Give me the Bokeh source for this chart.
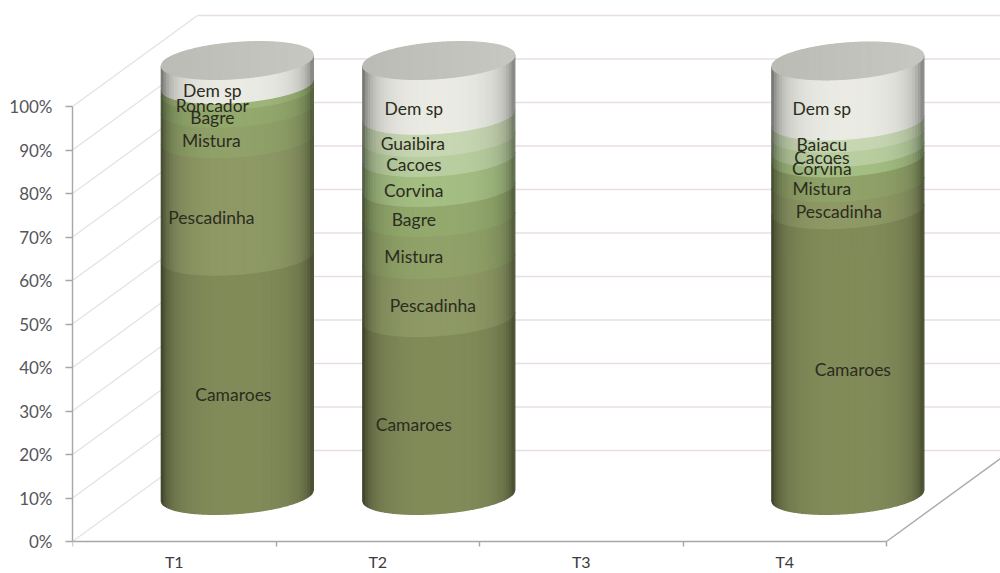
from bokeh.core.properties import value
from bokeh.embed import file_html
from bokeh.models import ColumnDataSource, FixedTicker, LinearAxis, PrintfTickFormatter, Range1d
from bokeh.plotting import figure
from bokeh.resources import INLINE
import numpy as np

# Stacked shares per sampling period, bottom to top (T3 has no catch)
categories = ["T1", "T2", "T3", "T4"]
t1_species = ["Camaroes", "Pescadinha", "Mistura", "Bagre", "Roncador", "Dem sp"]
t1_values = [55.0, 27.0, 7.0, 4.0, 1.5, 5.5]
t2_species = ["Camaroes", "Pescadinha", "Mistura", "Bagre", "Corvina", "Cacoes", "Guaibira", "Dem sp"]
t2_values = [40.9, 13.3, 9.7, 6.9, 6.9, 4.6, 5.1, 12.6]
t4_species = ["Camaroes", "Pescadinha", "Mistura", "Corvina", "Cacoes", "Baiacu", "Dem sp"]
t4_values = [65.7, 6.2, 5.7, 2.3, 3.4, 2.8, 13.8]
y_ticks = [0, 10, 20, 30, 40, 50, 60, 70, 80, 90, 100]

# Label nudges in screen pixels (right, down), in stacking order
t1_nudge = [(-4, 1), (-26, 2), (-26, -1), (-25, 0), (-25, 0), (-25, 0)]
t2_nudge = [(-25, 0), (-6, -1), (-25, 0), (-25, -1), (-25, 0), (-25, -1), (-26, -1), (-25, 3)]
t4_nudge = [(5, -1), (-9, -3), (-26, 0), (-26, -2), (-26, -1), (-26, -1), (-26, 0)]

species_colors = {
    "Camaroes": "#7d8656",
    "Pescadinha": "#899462",
    "Mistura": "#8b9c65",
    "Bagre": "#8ea369",
    "Roncador": "#99af75",
    "Corvina": "#9eb77e",
    "Cacoes": "#b2c79a",
    "Guaibira": "#c0cfac",
    "Baiacu": "#c0cfac",
    "Dem sp": "#e2e2dc",
}

FONT = "Lato"
PX_X = 203.5       # pixels per category
PX_Y = 4.35        # pixels per percentage point
DEPTH_X = 125 / PX_X
DEPTH_Y = 91 / PX_Y
BASE = 46 / PX_Y   # axis height of the centre of each cylinder's base
A = 76 / PX_X      # half width
B = 18 / PX_Y      # half height of the elliptical section
TILT = 5.5 / PX_Y  # rise of the section from centre to right edge
STRIPS = 56

p = figure(
    width=1000, height=573, output_backend="svg", toolbar_location=None,
    x_range=Range1d(0, 928 / PX_X), y_range=Range1d(-32 / PX_Y, 541 / PX_Y),
    min_border_left=72, min_border_right=0, min_border_top=0, min_border_bottom=0,
    x_axis_type=None, y_axis_type=None,
)
p.outline_line_color = None
p.xgrid.visible = False
p.ygrid.visible = False
p.background_fill_color = "#ffffff"
p.border_fill_color = "#ffffff"

# Chart walls: side-wall diagonals and back-wall rules
ticks = np.array(y_ticks, dtype=float)
p.segment(0, ticks, DEPTH_X, ticks + DEPTH_Y, line_color="#e6dfe4", line_width=1.2)
p.segment(DEPTH_X, ticks + DEPTH_Y, 928 / PX_X, ticks + DEPTH_Y, line_color="#e8dee4", line_width=1.3)
p.line([4, 928 / PX_X], [0, 83 / PX_Y], line_color="#aaa8ac", line_width=1.4)


def shade(hex_color, u):
    """Cylinder shading: darker toward both edges, a little more on the left."""
    rgb = np.array([int(hex_color[i:i + 2], 16) for i in (1, 3, 5)], dtype=float)
    side = 1.12 if u < 0 else 0.95
    light = 1.04 - side * (0.22 * abs(u) ** 3 + 0.30 * abs(u) ** 12)
    out = np.clip(rgb * light, 0, 255).astype(int)
    return "#%02x%02x%02x" % tuple(out)


def section(u, side=-1.0):
    return TILT * u + side * B * np.sqrt(np.clip(1 - u * u, 0, 1))


def draw_cylinder(center, species, values, nudges):
    edges = np.linspace(-1, 1, STRIPS + 1)
    xs, ys, colors = [], [], []
    tops = np.concatenate([[0.0], np.cumsum(values)])
    for name, low, high in zip(species, tops[:-1], tops[1:]):
        for e0, e1 in zip(edges[:-1], edges[1:]):
            uu = np.linspace(e0, e1, 4)
            bottom = BASE + low + section(uu)
            top = BASE + high + section(uu)
            xs.append(list(center + A * uu) + list(center + A * uu[::-1]))
            ys.append(list(bottom) + list(top[::-1]))
            colors.append(shade(species_colors[name], 0.5 * (e0 + e1)))
    # Cut end of the cylinder
    for e0, e1 in zip(edges[:-1], edges[1:]):
        uu = np.linspace(e0, e1, 4)
        level = BASE + tops[-1]
        xs.append(list(center + A * uu) + list(center + A * uu[::-1]))
        ys.append(list(level + section(uu)) + list(level + section(uu[::-1], 1.0)))
        mid = 0.5 * (e0 + e1)
        grey = int(194 + 6 * mid)
        colors.append("#%02x%02x%02x" % (grey, grey, grey - 6))
    p.patches(xs, ys, fill_color=colors, line_color=colors, line_width=1.3)

    mids = BASE + 0.5 * (tops[:-1] + tops[1:]) - B
    labels = ColumnDataSource(dict(
        x=[center] * len(species), y=mids, text=species,
        dx=[n[0] for n in nudges], dy=[n[1] for n in nudges],
    ))
    p.text("x", "y", text="text", x_offset="dx", y_offset="dy", source=labels,
           text_font=value(FONT), text_font_size="17.5px", text_color="#2b2c20",
           text_align="center", text_baseline="middle")


draw_cylinder(0.81, t1_species, t1_values, t1_nudge)
draw_cylinder(1.80, t2_species, t2_values, t2_nudge)
draw_cylinder(3.81, t4_species, t4_values, t4_nudge)

y_axis = LinearAxis(
    ticker=FixedTicker(ticks=y_ticks), bounds=(0, 100),
    formatter=PrintfTickFormatter(format="%d%%"),
    axis_line_color="#a8a6aa", axis_line_width=1.4,
    major_tick_line_color="#a8a6aa", major_tick_line_width=1.4,
    major_tick_out=7, major_tick_in=0, minor_tick_line_color=None,
    major_label_text_font=FONT, major_label_text_font_size="17px",
    major_label_text_color="#55555a", major_label_standoff=13,
)
p.add_layout(y_axis, "left")

# Pinned to the 0% level so the labels can sit in the strip under the frame's floor
x_axis = LinearAxis(
    fixed_location=0,
    ticker=FixedTicker(ticks=[0.5, 1.5, 2.5, 3.5], minor_ticks=[0, 1, 2, 3, 4]),
    bounds=(0, 4),
    major_label_overrides={0.5: categories[0], 1.5: categories[1], 2.5: categories[2], 3.5: categories[3]},
    axis_line_color="#a8a6aa", axis_line_width=1.4,
    major_tick_line_color=None, minor_tick_line_color="#a8a6aa", minor_tick_line_width=1.4,
    minor_tick_out=5, minor_tick_in=0,
    major_label_text_font=FONT, major_label_text_font_size="16px",
    major_label_text_color="#3c3c40", major_label_standoff=4,
)
p.add_layout(x_axis, "below")

open("out.html", "w").write(file_html(p, INLINE))
